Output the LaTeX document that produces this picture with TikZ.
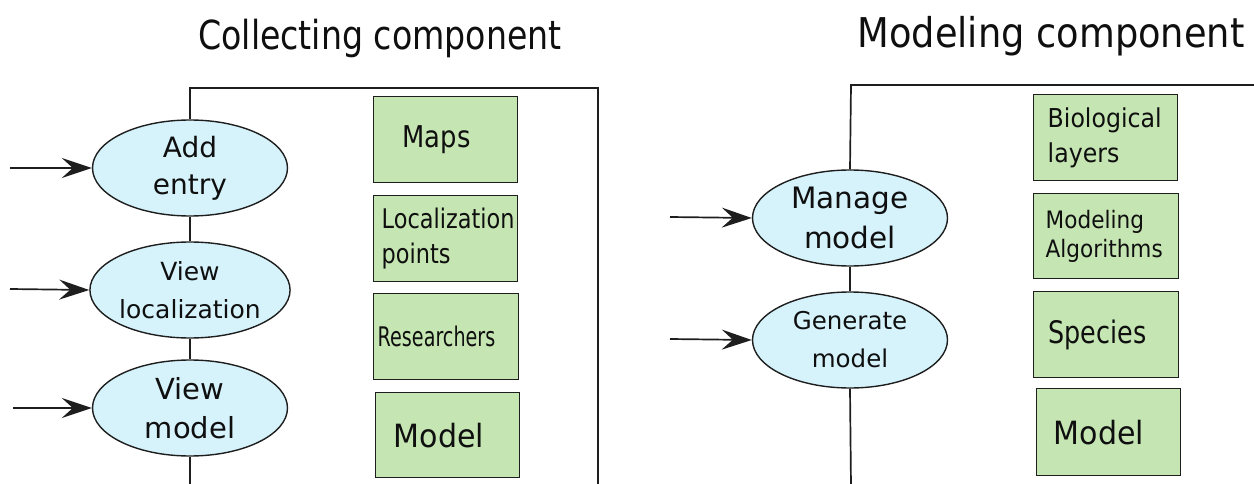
\documentclass[tikz,border=0pt]{standalone}
\usepackage{fontspec}
\setmainfont{DejaVu Sans}
\usetikzlibrary{shapes.geometric,arrows.meta}
\definecolor{ellfill}{RGB}{214,243,252}
\definecolor{boxfill}{RGB}{197,230,178}
\definecolor{linec}{RGB}{30,30,30}
\definecolor{txtc}{RGB}{15,15,15}
\newcommand{\sx}[2]{\scalebox{#1}[1]{#2}}
\newcommand{\fs}[2]{\fontsize{#1}{#2}\selectfont}
\begin{document}
\begin{tikzpicture}[x=1pt,y=-1pt,
  frame/.style={draw=linec, line width=1.7pt},
  usecase/.style={ellipse, draw=linec, line width=1.4pt, fill=ellfill,
    minimum width=195pt, minimum height=96pt, inner sep=0pt, align=center, text=txtc},
  entity/.style={rectangle, draw=linec, line width=1.4pt, fill=boxfill,
    inner xsep=0pt, inner ysep=0pt, align=left, anchor=north west, text=txtc},
  actor/.style={draw=linec, line width=1.7pt, -{Stealth[length=30pt,width=20pt,inset=11pt]}},
  title/.style={anchor=base, inner sep=0pt, text=txtc}]
\useasboundingbox (0,0) rectangle (1254,484);

% titles
\node[title, font=\fs{40}{48}] (t1) at (380,50) {\sx{0.83}{Collecting component}};
\node[title, font=\fs{41}{48}] (t2) at (1051,48) {\sx{0.897}{Modeling component}};

% ---- Collecting component ----
\node[usecase, font=\fs{28}{37}] (add) at (190,168) {Add\\entry};
\node[usecase, font=\fs{25}{38}] (vloc) at (190,290) {View\\localization};
\node[usecase, font=\fs{29}{39}] (vmod) at (190,408) {View\\model};

\node[entity, minimum width=144pt, minimum height=86pt, text width=144pt, font=\fs{30}{36}]
  (maps) at (373,96) {\hspace*{29pt}\sx{0.86}{Maps}};
\node[entity, minimum width=144pt, minimum height=86pt, text width=144pt, font=\fs{27}{35}]
  (locp) at (373,195) {\hspace*{8pt}\sx{0.83}{Localization}\\\hspace*{8pt}\sx{0.83}{points}};
\node[entity, minimum width=145pt, minimum height=86pt, text width=145pt, font=\fs{27}{35}]
  (res) at (373,293) {\hspace*{4pt}\sx{0.71}{Researchers}};
\node[entity, minimum width=144pt, minimum height=85pt, text width=144pt, font=\fs{32}{38}]
  (lmod) at (375,392) {\hspace*{18pt}\sx{0.94}{Model}};

\coordinate (ltop) at (190,88);
\coordinate (ltr) at (598,88);
\coordinate (lbr) at (598,486);
\coordinate (lbot) at (190,486);
\draw[frame] (add.north) -- (ltop) -- (ltr) -- (lbr);
\draw[frame] (add.south) -- (vloc.north);
\draw[frame] (vloc.south) -- (vmod.north);
\draw[frame] (vmod.south) -- (lbot);

\coordinate (a1) at (10,168);
\coordinate (a2) at (10,289);
\coordinate (a3) at (13,408);
\draw[actor] (a1) -- (add.west);
\draw[actor] (a2) -- (vloc.west);
\draw[actor] (a3) -- (vmod.west);

% ---- Modeling component ----
\node[usecase, font=\fs{29.5}{40}] (man) at (850,218) {Manage\\model};
\node[usecase, font=\fs{24.5}{38}] (gen) at (850,340) {Generate\\model};

\node[entity, minimum width=144pt, minimum height=86pt, text width=144pt, font=\fs{26}{35}]
  (bio) at (1033,94) {\hspace*{14pt}\sx{0.91}{Biological}\\\hspace*{14pt}\sx{0.91}{layers}};
\node[entity, minimum width=145pt, minimum height=85pt, text width=145pt, font=\fs{24}{29}]
  (alg) at (1033,193) {\hspace*{12pt}\sx{0.9}{Modeling}\\\hspace*{12pt}\sx{0.9}{Algorithms}};
\node[entity, minimum width=145pt, minimum height=86pt, text width=145pt, font=\fs{31}{37}]
  (spe) at (1033,291) {\hspace*{15pt}\sx{0.82}{Species}};
\node[entity, minimum width=144pt, minimum height=87pt, text width=144pt, font=\fs{32}{38}]
  (rmod) at (1036,388) {\hspace*{17pt}\sx{0.94}{Model}};

\coordinate (rtop) at (851,85);
\coordinate (rtr) at (1256,85);
\coordinate (rbot) at (851,486);
\draw[frame] (man.north) -- (rtop) -- (rtr);
\draw[frame] (man.south) -- (gen.north);
\draw[frame] (gen.south) -- (rbot);

\coordinate (a4) at (670,217);
\coordinate (a5) at (670,339);
\draw[actor] (a4) -- (man.west);
\draw[actor] (a5) -- (gen.west);
\end{tikzpicture}
\end{document}
